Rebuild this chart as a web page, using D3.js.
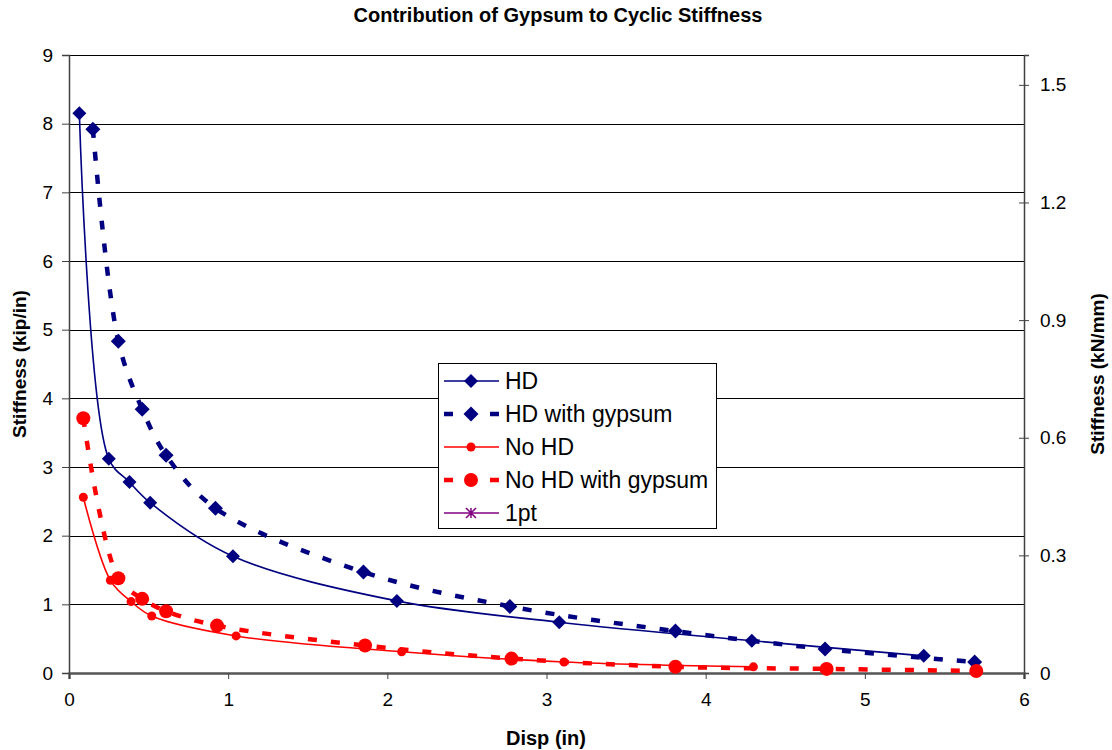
<!DOCTYPE html>
<html>
  <head>
    <script src="https://d3js.org/d3.v7.min.js"></script>
    <style>
      body { margin: 0; background: #fff; }
      text { font-family: "Liberation Sans", Arial, sans-serif; fill: #000; }
    </style>
  </head>
  <body>
    <svg width="1112" height="750"></svg>
    <script>
      // values
      var hdDisp = [0.065, 0.25, 0.38, 0.51, 1.03, 2.06, 3.08, 4.29, 5.37],
          hdStiff = [8.15, 3.12, 2.78, 2.48, 1.70, 1.05, 0.74, 0.47, 0.25];
      var hdGypDisp = [0.15, 0.31, 0.46, 0.61, 0.92, 1.85, 2.77, 3.81, 4.75, 5.69],
          hdGypStiff = [7.92, 4.83, 3.84, 3.17, 2.40, 1.47, 0.97, 0.61, 0.35, 0.16];
      var noHdDisp = [0.09, 0.26, 0.39, 0.52, 1.05, 2.09, 3.11, 4.30],
          noHdStiff = [2.56, 1.35, 1.04, 0.83, 0.54, 0.31, 0.16, 0.09];
      var noHdGypDisp = [0.09, 0.31, 0.46, 0.61, 0.93, 1.86, 2.78, 3.81, 4.76, 5.70],
          noHdGypStiff = [3.71, 1.38, 1.08, 0.90, 0.69, 0.40, 0.21, 0.09, 0.06, 0.03];
      var onePtDisp = [],
          onePtStiff = [];
      var seriesNames = ["HD", "HD with gypsum", "No HD", "No HD with gypsum", "1pt"];
      var xTicks = [0, 1, 2, 3, 4, 5, 6],
          yTicks = [0, 1, 2, 3, 4, 5, 6, 7, 8, 9],
          y2Ticks = [0, 0.3, 0.6, 0.9, 1.2, 1.5];
      var kipInToKnMm = 4.448222 / 25.4;

      var plotL = 69, plotR = 1024, plotT = 55, plotB = 673;
      var svg = d3.select("svg");

      var x = d3.scaleLinear().domain([0, 6]).range([plotL, plotR]);
      var y = d3.scaleLinear().domain([0, 9]).range([plotB, plotT]);
      var y2 = d3.scaleLinear().domain([0, 9 * kipInToKnMm]).range([plotB, plotT]);

      // title
      svg.append("text")
        .attr("x", 558).attr("y", 22)
        .attr("text-anchor", "middle")
        .style("font-size", "20px").style("font-weight", "bold")
        .text("Contribution of Gypsum to Cyclic Stiffness");

      // gridlines
      svg.append("g").selectAll("line")
        .data(yTicks.filter(function(d) { return d > 0; }))
        .join("line")
        .attr("x1", plotL).attr("x2", plotR)
        .attr("y1", function(d) { return Math.round(y(d)) + 0.5; })
        .attr("y2", function(d) { return Math.round(y(d)) + 0.5; })
        .attr("stroke", "#000").attr("stroke-width", 1);

      // axes
      var yAxis = d3.axisLeft(y).tickValues(yTicks).tickSize(7).tickPadding(9)
        .tickFormat(d3.format("d"));
      var gy = svg.append("g").attr("transform", "translate(" + plotL + ",0)").call(yAxis);
      var y2Axis = d3.axisRight(y2).tickValues(y2Ticks).tickSize(5).tickPadding(11)
        .tickFormat(function(d) { return d === 0 ? "0" : d3.format(".1f")(d); });
      var gy2 = svg.append("g").attr("transform", "translate(" + plotR + ",0)").call(y2Axis);
      gy2.selectAll(".tick line").attr("x1", -5);
      var xAxis = d3.axisBottom(x).tickValues(xTicks).tickSize(6).tickPadding(14)
        .tickFormat(d3.format("d"));
      var gx = svg.append("g").attr("transform", "translate(0," + plotB + ")").call(xAxis);

      [gy, gy2, gx].forEach(function(g) {
        g.select(".domain").attr("stroke", "#404040").attr("stroke-width", 1.5);
        g.selectAll(".tick line").attr("stroke", "#404040");
        g.selectAll(".tick text").style("font-size", "19px").attr("font-family", null);
      });
      gx.select(".domain").attr("stroke", "#555").attr("stroke-width", 2.5);

      // axis titles
      svg.append("text")
        .attr("transform", "translate(26,364) rotate(-90)")
        .attr("text-anchor", "middle")
        .style("font-size", "19px").style("font-weight", "bold")
        .text("Stiffness (kip/in)");
      svg.append("text")
        .attr("transform", "translate(1104,374) rotate(-90)")
        .attr("text-anchor", "middle")
        .style("font-size", "19px").style("font-weight", "bold")
        .text("Stiffness (kN/mm)");
      svg.append("text")
        .attr("x", 546).attr("y", 745)
        .attr("text-anchor", "middle")
        .style("font-size", "20px").style("font-weight", "bold")
        .text("Disp (in)");

      var series = [
        { name: seriesNames[0], xs: hdDisp, ys: hdStiff, color: "#000080", width: 1.6, dash: null, marker: "diamond", size: 7 },
        { name: seriesNames[1], xs: hdGypDisp, ys: hdGypStiff, color: "#000080", width: 4.5, dash: "9,14", marker: "diamond", size: 7.5 },
        { name: seriesNames[2], xs: noHdDisp, ys: noHdStiff, color: "#ff0000", width: 1.6, dash: null, marker: "circle", size: 4.5 },
        { name: seriesNames[3], xs: noHdGypDisp, ys: noHdGypStiff, color: "#ff0000", width: 4.5, dash: "9,14", marker: "circle", size: 7 },
        { name: seriesNames[4], xs: onePtDisp, ys: onePtStiff, color: "#800080", width: 1.6, dash: null, marker: "star", size: 5 }
      ];

      var line = d3.line()
        .x(function(d) { return x(d[0]); })
        .y(function(d) { return y(d[1]); })
        .curve(d3.curveCatmullRom.alpha(0.5));

      function drawMarker(g, s, cx, cy) {
        if (s.marker === "diamond") {
          g.append("path")
            .attr("d", "M" + cx + "," + (cy - s.size) + "L" + (cx + s.size) + "," + cy +
                 "L" + cx + "," + (cy + s.size) + "L" + (cx - s.size) + "," + cy + "Z")
            .attr("fill", s.color);
        } else if (s.marker === "circle") {
          g.append("circle").attr("cx", cx).attr("cy", cy).attr("r", s.size).attr("fill", s.color);
        } else {
          var r = s.size;
          g.append("path")
            .attr("d", "M" + (cx - r) + "," + (cy - r) + "L" + (cx + r) + "," + (cy + r) +
                 "M" + (cx - r) + "," + (cy + r) + "L" + (cx + r) + "," + (cy - r) +
                 "M" + cx + "," + (cy - r) + "L" + cx + "," + (cy + r))
            .attr("stroke", s.color).attr("stroke-width", 1.5);
        }
      }

      var plot = svg.append("g");
      series.forEach(function(s) {
        var pts = s.xs.map(function(v, i) { return [v, s.ys[i]]; });
        if (pts.length > 1) {
          plot.append("path")
            .attr("d", line(pts))
            .attr("fill", "none")
            .attr("stroke", s.color)
            .attr("stroke-width", s.width)
            .attr("stroke-dasharray", s.dash);
        }
        var mg = plot.append("g");
        pts.forEach(function(p) { drawMarker(mg, s, x(p[0]), y(p[1])); });
      });

      // legend
      var lg = svg.append("g");
      lg.append("rect")
        .attr("x", 438.5).attr("y", 363.5).attr("width", 278).attr("height", 165)
        .attr("fill", "#fff").attr("stroke", "#000").attr("stroke-width", 1);
      series.forEach(function(s, i) {
        var cy = 381 + i * 33;
        lg.append("line")
          .attr("x1", 444).attr("x2", 499).attr("y1", cy).attr("y2", cy)
          .attr("stroke", s.color).attr("stroke-width", s.width)
          .attr("stroke-dasharray", s.dash);
        drawMarker(lg, s, 471, cy);
        lg.append("text")
          .attr("x", 505).attr("y", cy + 8)
          .style("font-size", "23px")
          .text(s.name);
      });
    </script>
  </body>
</html>
